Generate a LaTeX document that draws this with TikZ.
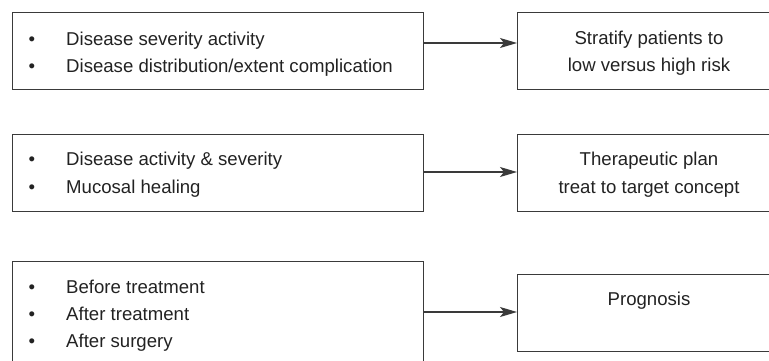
\documentclass[tikz,border=0pt]{standalone}
\usepackage{fontspec}
\setmainfont{Liberation Sans}
\usetikzlibrary{arrows.meta}
\definecolor{linec}{HTML}{3A3A3A}
\definecolor{textc}{HTML}{222222}
\tikzset{
  x=1pt, y=-1pt,
  box/.style={draw=linec, line width=1.3pt, rectangle, inner sep=0pt, anchor=north west},
  txt/.style={inner sep=0pt, anchor=base west, text=textc, font=\fontsize{18.6}{27}\selectfont},
  ctxt/.style={inner sep=0pt, anchor=base, text=textc, font=\fontsize{18.6}{27}\selectfont},
  bul/.style={inner sep=0pt, anchor=base, text=textc, font=\fontsize{18.6}{27}\selectfont},
  arr/.style={draw=linec, line width=1.3pt, -{Stealth[length=17pt,width=10pt,inset=4pt]}}
}
\begin{document}
\begin{tikzpicture}
\useasboundingbox (0,0) rectangle (769,360);
\clip (0,0) rectangle (769,360);
% boxes
\node[box, minimum width=411pt, minimum height=77pt] (L1) at (12,12) {};
\node[box, minimum width=256pt, minimum height=77pt] (R1) at (517,12) {};
\node[box, minimum width=411pt, minimum height=77pt] (L2) at (12,134) {};
\node[box, minimum width=256pt, minimum height=77pt] (R2) at (517,134) {};
\node[box, minimum width=411pt, minimum height=104pt] (L3) at (12,261) {};
\node[box, minimum width=256pt, minimum height=77pt] (R3) at (517,274) {};
% row 1 text
\node[bul] (b11) at (32,45) {•};
\node[txt] (t11) at (66,45) {Disease severity activity};
\node[bul] (b12) at (32,72) {•};
\node[txt] (t12) at (66,72) {Disease distribution/extent complication};
\node[ctxt] (r11) at (649,44) {Stratify patients to};
\node[ctxt] (r12) at (649,71) {low versus high risk};
% row 2 text
\node[bul] (b21) at (32,165) {•};
\node[txt] (t21) at (66,165) {Disease activity \& severity};
\node[bul] (b22) at (32,193) {•};
\node[txt] (t22) at (66,193) {Mucosal healing};
\node[ctxt] (r21) at (649,165) {Therapeutic plan};
\node[ctxt] (r22) at (649,193) {treat to target concept};
% row 3 text
\node[bul] (b31) at (32,293) {•};
\node[txt] (t31) at (66,293) {Before treatment};
\node[bul] (b32) at (32,320) {•};
\node[txt] (t32) at (66,320) {After treatment};
\node[bul] (b33) at (32,347) {•};
\node[txt] (t33) at (66,347) {After surgery};
\node[ctxt] (r31) at (649,305) {Prognosis};
% arrow levels
\coordinate (a1) at (0,43);
\coordinate (a2) at (0,172);
\coordinate (a3) at (0,312);
\draw[arr] (L1.east |- a1) -- (R1.west |- a1);
\draw[arr] (L2.east |- a2) -- (R2.west |- a2);
\draw[arr] (L3.east |- a3) -- (R3.west |- a3);
\end{tikzpicture}
\end{document}
